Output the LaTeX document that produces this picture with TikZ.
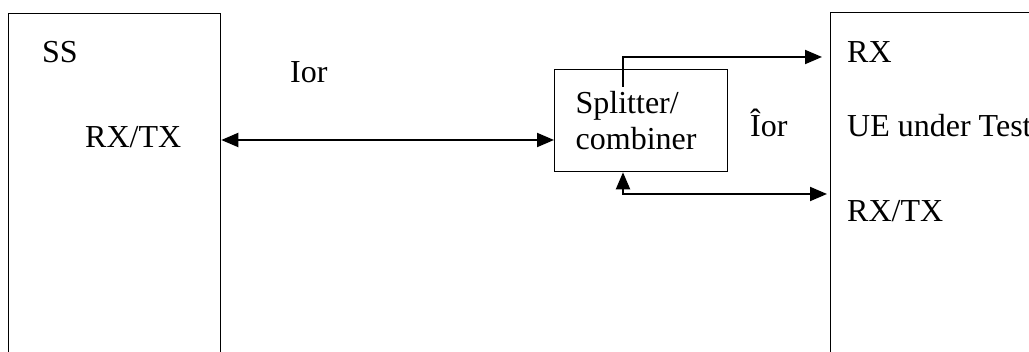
\documentclass[tikz,border=0pt]{standalone}
\usepackage{fontspec}
\setmainfont{Liberation Serif}
\usetikzlibrary{arrows.meta}
\begin{document}
\begin{tikzpicture}[x=1pt,y=-1pt,>={Triangle[length=17pt,width=14pt]},
  every node/.style={font=\fontsize{32}{36}\selectfont,inner sep=0pt},
  unit/.style={draw,line width=1.3pt,anchor=north west,minimum height=420pt},
  lbl/.style={anchor=base west},
  link/.style={line width=2pt}]
\useasboundingbox (0,0) rectangle (1029,352);
\clip (0,0) rectangle (1029,352);
\path
(8,13)    node[unit,minimum width=212pt] (ss) {}
(830,12)  node[unit,minimum width=300pt] (ue) {}
(554,69)  node[draw,line width=1.3pt,anchor=north west,inner xsep=21pt,
               text width=131pt,minimum height=102pt,align=left] (split) {Splitter/\\combiner}
(42,63)   node[lbl] (sslbl) {SS}
(85,148)  node[lbl] (ssrxtx) {RX/TX}
(290,83)  node[lbl] (ior) {Ior}
(750,137) node[lbl] (iorhat) {Îor}
(847,63)  node[lbl] (uerx) {RX}
(847,137) node[lbl] (uelbl) {UE under Test}
(847,222) node[lbl] (uerxtx) {RX/TX};
\coordinate (tap) at (623,87);
\coordinate (rowa) at (0,140);
\coordinate (rowb) at (0,57);
\coordinate (rowc) at (0,194);
\draw[link,<->] (ss.east |- rowa) -- (split.west |- rowa);
\draw[link,->,shorten >=8pt] (tap) |- (ue.west |- rowb);
\draw[link,<->,shorten >=3pt] (split.south -| tap) |- (ue.west |- rowc);
\end{tikzpicture}
\end{document}
